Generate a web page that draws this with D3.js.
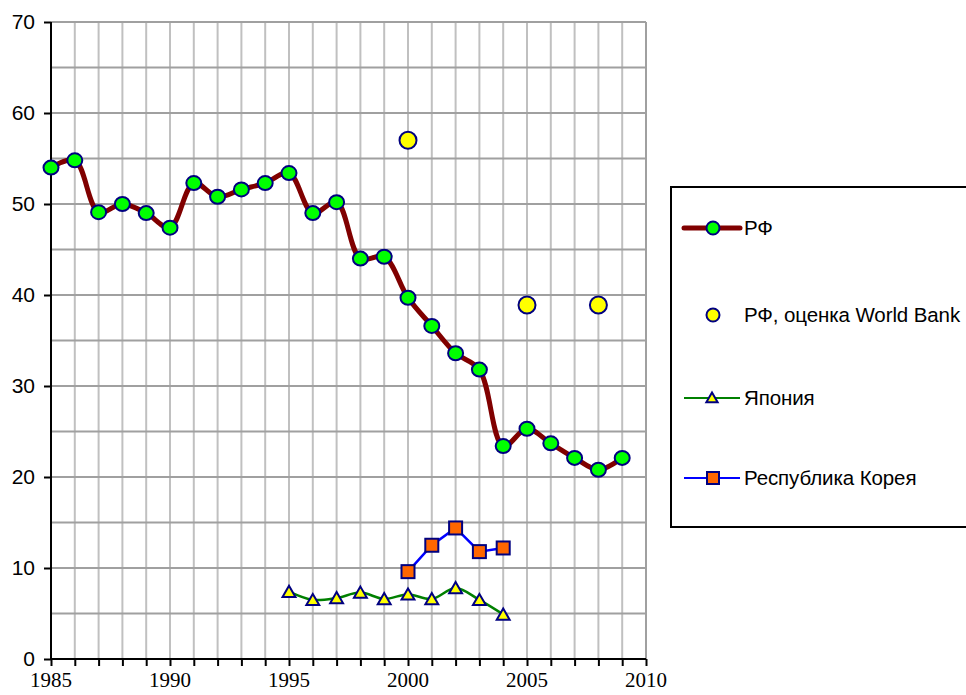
<!DOCTYPE html>
<html>
<head>
<meta charset="utf-8">
<script src="https://cdn.jsdelivr.net/npm/d3@7"></script>
<style>
  body { margin: 0; background: #fff; }
  svg { display: block; }
</style>
</head>
<body>
<div id="chart"></div>
<script>
const WIDTH = 966;
const HEIGHT = 695;
const MARGINS = {left: 51, right: 320, top: 22, bottom: 36};

// data
const rf_years = [1985, 1986, 1987, 1988, 1989, 1990, 1991, 1992, 1993, 1994, 1995, 1996, 1997,
  1998, 1999, 2000, 2001, 2002, 2003, 2004, 2005, 2006, 2007, 2008, 2009];
const rf_values = [54.0, 54.8, 49.1, 50.0, 49.0, 47.4, 52.3, 50.8, 51.6, 52.3, 53.4, 49.0, 50.2,
  44.0, 44.2, 39.7, 36.6, 33.6, 31.8, 23.4, 25.3, 23.7, 22.1, 20.8, 22.1];

const wb_years = [2000, 2005, 2008];
const wb_values = [57.0, 38.9, 38.9];

const jp_years = [1995, 1996, 1997, 1998, 1999, 2000, 2001, 2002, 2003, 2004];
const jp_values = [7.4, 6.5, 6.7, 7.3, 6.6, 7.1, 6.6, 7.8, 6.5, 4.9];

const kr_years = [2000, 2001, 2002, 2003, 2004];
const kr_values = [9.6, 12.5, 14.4, 11.8, 12.2];

const x_ticks = [1985, 1990, 1995, 2000, 2005, 2010];
const y_ticks = [0, 10, 20, 30, 40, 50, 60, 70];

const legend_labels = ["РФ", "РФ, оценка World Bank", "Япония", "Республика Корея"];

const SANS = "'Liberation Sans', Arial, sans-serif";
const SERIF = "'Liberation Serif', 'Times New Roman', serif";

const svg = d3.select("#chart")
  .append("svg")
    .attr("width", WIDTH)
    .attr("height", HEIGHT);

const x = d3.scaleLinear()
  .domain([1985, 2010])
  .range([MARGINS.left, WIDTH - MARGINS.right]);

const y = d3.scaleLinear()
  .domain([0, 70])
  .range([HEIGHT - MARGINS.bottom, MARGINS.top]);

// grid: vertical every year, horizontal every 5
svg.append("g")
  .selectAll("line")
  .data(d3.range(1986, 2011))
  .join("line")
    .attr("x1", d => x(d)).attr("x2", d => x(d))
    .attr("y1", y(0)).attr("y2", y(70))
    .attr("stroke", d => d === 2010 ? "#a0a0a0" : "#c0c0c0")
    .attr("stroke-width", 2);

svg.append("g")
  .selectAll("line")
  .data(d3.range(5, 71, 5))
  .join("line")
    .attr("x1", x(1985)).attr("x2", x(2010))
    .attr("y1", d => y(d)).attr("y2", d => y(d))
    .attr("stroke", "#a0a0a0")
    .attr("stroke-width", 2);

// axes
const xAxis = svg.append("g")
  .attr("transform", "translate(0," + y(0) + ")")
  .call(d3.axisBottom(x).tickValues(d3.range(1985, 2011)).tickSize(7).tickFormat(""));
xAxis.selectAll("line, path").attr("stroke", "#000").attr("stroke-width", 2);
xAxis.select("path").attr("d", "M" + x(1985) + ",0H" + x(2010));

svg.append("g")
  .selectAll("text")
  .data(x_ticks)
  .join("text")
    .attr("x", d => x(d))
    .attr("y", y(0) + 28)
    .attr("text-anchor", "middle")
    .attr("font-family", SERIF)
    .attr("font-size", 21)
    .text(d => d);

const yAxis = svg.append("g")
  .attr("transform", "translate(" + x(1985) + ",0)")
  .call(d3.axisLeft(y).tickValues(y_ticks).tickSize(7).tickPadding(9));
yAxis.selectAll("line, path").attr("stroke", "#000").attr("stroke-width", 2);
yAxis.select("path").attr("d", "M0," + y(0) + "V" + y(70));
yAxis.selectAll("text")
  .attr("font-family", SANS)
  .attr("font-size", 21)
  .attr("fill", "#000");

const smooth = d3.line().x(d => x(d[0])).y(d => y(d[1])).curve(d3.curveCatmullRom.alpha(0.5));
const straight = d3.line().x(d => x(d[0])).y(d => y(d[1]));

const rf = d3.zip(rf_years, rf_values);
const wb = d3.zip(wb_years, wb_values);
const jp = d3.zip(jp_years, jp_values);
const kr = d3.zip(kr_years, kr_values);

// Japan
svg.append("path")
  .attr("d", smooth(jp))
  .attr("fill", "none").attr("stroke", "#008000").attr("stroke-width", 2.5);

const tri = d3.symbol().type(d3.symbolTriangle).size(72);
svg.append("g").selectAll("path")
  .data(jp)
  .join("path")
    .attr("d", tri)
    .attr("transform", d => "translate(" + x(d[0]) + "," + (y(d[1]) + 1.5) + ")")
    .attr("fill", "#ffff00").attr("stroke", "#000080").attr("stroke-width", 2);

// Korea
svg.append("path")
  .attr("d", straight(kr))
  .attr("fill", "none").attr("stroke", "#0000ff").attr("stroke-width", 2.5);

svg.append("g").selectAll("rect")
  .data(kr)
  .join("rect")
    .attr("x", d => x(d[0]) - 6.5).attr("y", d => y(d[1]) - 6.5)
    .attr("width", 13).attr("height", 13)
    .attr("fill", "#ff6600").attr("stroke", "#000080").attr("stroke-width", 2);

// RF
svg.append("path")
  .attr("d", smooth(rf))
  .attr("fill", "none").attr("stroke", "#800000").attr("stroke-width", 5);

svg.append("g").selectAll("ellipse")
  .data(rf)
  .join("ellipse")
    .attr("cx", d => x(d[0])).attr("cy", d => y(d[1]))
    .attr("rx", 7.5).attr("ry", 7)
    .attr("fill", "#00ff00").attr("stroke", "#000080").attr("stroke-width", 2);

// World Bank
svg.append("g").selectAll("ellipse")
  .data(wb)
  .join("ellipse")
    .attr("cx", d => x(d[0])).attr("cy", d => y(d[1]))
    .attr("rx", 8.5).attr("ry", 8.5)
    .attr("fill", "#ffff00").attr("stroke", "#000080").attr("stroke-width", 2);

// legend
const lg = svg.append("g");
lg.append("rect")
  .attr("x", 671).attr("y", 187).attr("width", 310).attr("height", 340)
  .attr("fill", "#fff").attr("stroke", "#000").attr("stroke-width", 2);

const legend_y = [228, 315, 398, 478];
lg.append("line").attr("x1", 684).attr("x2", 740).attr("y1", legend_y[0]).attr("y2", legend_y[0])
  .attr("stroke", "#800000").attr("stroke-width", 5).attr("stroke-linecap", "round");
lg.append("ellipse").attr("cx", 713).attr("cy", legend_y[0]).attr("rx", 6.5).attr("ry", 6.5)
  .attr("fill", "#00ff00").attr("stroke", "#000080").attr("stroke-width", 2);

lg.append("ellipse").attr("cx", 713).attr("cy", legend_y[1]).attr("rx", 6.5).attr("ry", 6.5)
  .attr("fill", "#ffff00").attr("stroke", "#000080").attr("stroke-width", 2);

lg.append("line").attr("x1", 684).attr("x2", 740).attr("y1", legend_y[2]).attr("y2", legend_y[2])
  .attr("stroke", "#008000").attr("stroke-width", 2);
lg.append("path").attr("d", d3.symbol().type(d3.symbolTriangle).size(55))
  .attr("transform", "translate(712," + (legend_y[2] + 1) + ")")
  .attr("fill", "#ffff00").attr("stroke", "#000080").attr("stroke-width", 2);

lg.append("line").attr("x1", 684).attr("x2", 740).attr("y1", legend_y[3]).attr("y2", legend_y[3])
  .attr("stroke", "#0000ff").attr("stroke-width", 2);
lg.append("rect").attr("x", 707).attr("y", legend_y[3] - 6).attr("width", 12).attr("height", 12)
  .attr("fill", "#ff6600").attr("stroke", "#000080").attr("stroke-width", 2);

lg.selectAll("text")
  .data(legend_labels)
  .join("text")
    .attr("x", 744)
    .attr("y", (d, i) => legend_y[i] + 7)
    .attr("font-family", SANS)
    .attr("font-size", 20.5)
    .attr("letter-spacing", -0.1)
    .text(d => d);
</script>
</body>
</html>
